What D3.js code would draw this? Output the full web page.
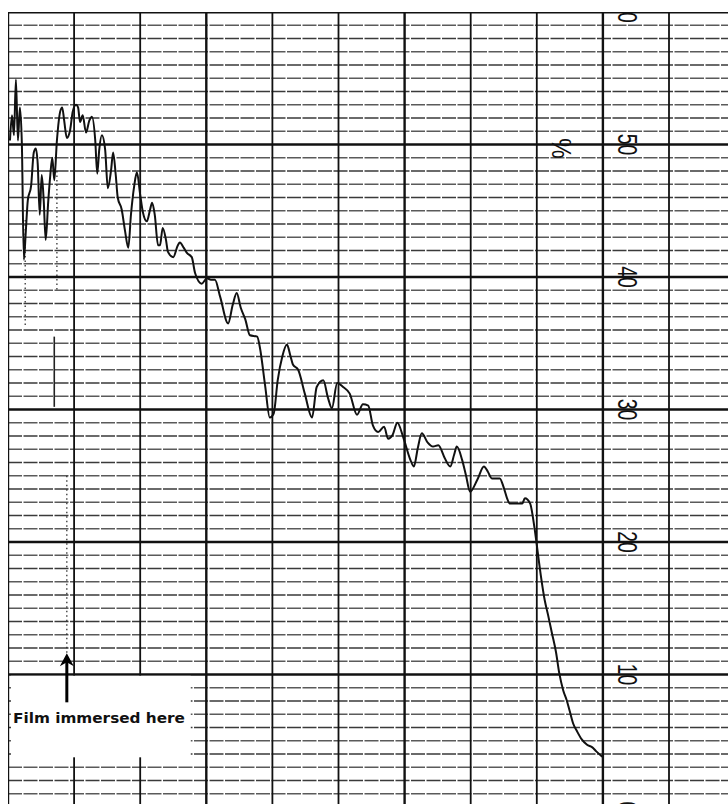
<!DOCTYPE html>
<html>
<head>
<meta charset="utf-8">
<script src="https://cdn.jsdelivr.net/npm/d3@7"></script>
<style>
    body { margin: 0; background: #fff; }
    svg { display: block; }
</style>
</head>
<body>
<svg id="chart"></svg>
<script>
// recorder trace: time in chart divisions, reading in %
var traceTime = [0.03, 0.06, 0.09, 0.12, 0.15, 0.18, 0.21, 0.24, 0.27, 0.30, 0.35, 0.39, 0.42, 0.45, 0.48, 0.51,
    0.54, 0.57, 0.61, 0.64, 0.67, 0.70, 0.74, 0.79, 0.82, 0.85, 0.89, 0.94, 0.98, 1.03, 1.06, 1.09, 1.13, 1.18,
    1.23, 1.27, 1.32, 1.35, 1.38, 1.42, 1.47, 1.51, 1.56, 1.59, 1.63, 1.66, 1.72, 1.77, 1.82, 1.86, 1.91, 1.95,
    2.00, 2.04, 2.10, 2.15, 2.18, 2.22, 2.27, 2.30, 2.34, 2.39, 2.42, 2.50, 2.57, 2.60, 2.66, 2.71, 2.78, 2.83,
    2.93, 3.01, 3.07, 3.13, 3.21, 3.33, 3.40, 3.46, 3.52, 3.59, 3.66, 3.77, 3.81, 3.89, 3.96, 4.02, 4.08, 4.15,
    4.22, 4.27, 4.31, 4.39, 4.49, 4.60, 4.67, 4.77, 4.84, 4.90, 4.98, 5.07, 5.17, 5.28, 5.37, 5.45, 5.52, 5.60,
    5.69, 5.75, 5.82, 5.89, 5.98, 6.08, 6.14, 6.20, 6.26, 6.35, 6.43, 6.51, 6.61, 6.69, 6.75, 6.79, 6.87, 6.93,
    6.99, 7.10, 7.20, 7.26, 7.32, 7.44, 7.50, 7.55, 7.59, 7.69, 7.78, 7.82, 7.90, 7.94, 7.97, 8.02, 8.06, 8.12,
    8.17, 8.23, 8.29, 8.34, 8.40, 8.45, 8.50, 8.55, 8.61, 8.68, 8.76, 8.84, 8.90, 8.99];

var tracePercent = [50.3, 52.2, 50.7, 54.9, 50.3, 52.8, 50.0, 41.3, 43.5, 45.8, 46.9, 49.4, 49.7, 48.5, 44.7, 47.7,
    45.8, 42.8, 45.8, 47.7, 49.0, 47.3, 50.3, 52.5, 52.8, 51.8, 50.5, 51.1, 52.5, 53.0, 52.8, 51.7, 52.2, 50.9,
    51.8, 52.1, 50.3, 47.8, 49.6, 50.7, 49.6, 46.7, 48.1, 49.4, 47.7, 46.0, 45.1, 43.5, 42.2, 44.7, 46.9, 47.9,
    46.2, 44.9, 44.2, 45.1, 45.6, 44.7, 42.4, 42.4, 43.7, 42.8, 41.9, 41.5, 42.4, 42.6, 42.2, 41.8, 41.5, 40.3,
    39.5, 39.9, 39.8, 39.8, 38.5, 36.5, 37.9, 38.8, 37.7, 36.8, 35.6, 35.5, 34.7, 31.8, 29.4, 29.7, 32.2, 34.0,
    34.9, 34.1, 33.4, 33.0, 31.2, 29.4, 31.7, 32.2, 30.9, 30.1, 32.0, 31.7, 31.2, 29.6, 30.4, 30.3, 28.8, 28.3,
    28.7, 27.8, 28.1, 29.0, 27.9, 26.3, 25.7, 27.1, 28.2, 27.5, 27.2, 27.3, 26.3, 25.7, 26.6, 27.2, 26.2, 25.0,
    23.8, 24.7, 25.7, 25.3, 24.8, 24.8, 24.1, 23.3, 22.9, 22.9, 22.9, 23.3, 22.9, 21.9, 20.9, 19.0, 17.5, 15.6,
    14.5, 13.1, 11.7, 10.1, 8.8, 8.1, 7.2, 6.3, 5.7, 5.1, 4.7, 4.5, 4.2, 3.8];

// faint pen streaks in the first division
var streakTime = [0.26, 0.70, 0.74, 0.89];
var streakFrom = [44.3, 35.5, 48.0, 25.0];
var streakTo = [36.2, 30.2, 39.0, 11.6];

var percentTicks = [0, 10, 20, 30, 40, 50, 60];
var noteText = 'Film immersed here';
var notePercent = [3.75, 9.9];
var noteTime = [0.03, 2.75];
var arrowTime = 0.89;
var arrowPercent = [7.9, 11.6];

var width = 728,
    height = 804;

var x = d3.scaleLinear().domain([0, 10]).range([8, 669]);
var y = d3.scaleLinear().domain([0, 60]).range([807, 12]);

var svg = d3.select('#chart')
    .attr('width', width)
    .attr('height', height);

svg.append('defs').append('clipPath')
    .attr('id', 'plot')
    .append('rect')
    .attr('x', x(0))
    .attr('y', y(60))
    .attr('width', width - x(0))
    .attr('height', height - y(60));

var g = svg.append('g').attr('clip-path', 'url(#plot)');

// minor horizontal rulings
g.append('g').selectAll('line')
    .data(d3.range(0, 61).filter(function(d) { return d % 10 !== 0; }))
    .join('line')
    .attr('x1', x(0))
    .attr('x2', width)
    .attr('y1', function(d) { return y(d); })
    .attr('y2', function(d) { return y(d); })
    .style('stroke', function(d) { return d % 2 ? '#5a5a5a' : '#3a3a3a'; })
    .style('stroke-width', 1.3)
    .style('stroke-dasharray', '14,1.5');

// vertical time rulings
g.append('g').selectAll('line')
    .data(d3.range(0, 11))
    .join('line')
    .attr('x1', function(d) { return x(d); })
    .attr('x2', function(d) { return x(d); })
    .attr('y1', y(60))
    .attr('y2', height)
    .style('stroke', '#111')
    .style('stroke-width', function(d) { return d % 3 === 0 ? 2.4 : 1.8; });

// major horizontal rulings every 10 %
g.append('g').selectAll('line')
    .data(percentTicks)
    .join('line')
    .attr('x1', x(0))
    .attr('x2', width)
    .attr('y1', function(d) { return y(d); })
    .attr('y2', function(d) { return y(d); })
    .style('stroke', '#111')
    .style('stroke-width', function(d) { return d === 60 ? 3.2 : 2.4; });

// scale figures printed sideways on the paper
g.append('g').selectAll('text')
    .data(percentTicks)
    .join('text')
    .attr('transform', function(d) {
        return 'translate(' + (x(9) + 24) + ',' + y(d) + ') rotate(90) scale(0.72,1)';
    })
    .attr('text-anchor', 'middle')
    .attr('dominant-baseline', 'central')
    .style('font-family', 'Liberation Sans, Arial, sans-serif')
    .style('font-size', '27px')
    .style('fill', '#111')
    .text(function(d) { return d; });

g.append('text')
    .attr('transform', 'translate(' + (x(8.3) + 5) + ',' + y(49.7) + ') rotate(90) scale(0.85,1)')
    .attr('text-anchor', 'middle')
    .attr('dominant-baseline', 'central')
    .style('font-family', 'Liberation Sans, Arial, sans-serif')
    .style('font-size', '27px')
    .style('fill', '#111')
    .text('%');

g.append('g').selectAll('line')
    .data(streakTime)
    .join('line')
    .attr('x1', function(d) { return x(d); })
    .attr('x2', function(d) { return x(d); })
    .attr('y1', function(d, i) { return y(streakFrom[i]); })
    .attr('y2', function(d, i) { return y(streakTo[i]); })
    .style('stroke', '#222')
    .style('stroke-width', function(d, i) { return i === 1 ? 1.6 : 1.2; })
    .style('stroke-dasharray', function(d, i) { return i === 1 ? null : '1.5,3'; });

var trace = traceTime.map(function(t, i) {
    return { time: t, value: tracePercent[i] };
});

var valueline = d3.line()
    .x(function(d) { return x(d.time); })
    .y(function(d) { return y(d.value); })
    .curve(d3.curveMonotoneX);

g.append('path')
    .datum(trace)
    .attr('d', valueline)
    .style('fill', 'none')
    .style('stroke', '#111')
    .style('stroke-width', 2)
    .style('stroke-linejoin', 'round');

// label box pasted over the paper
g.append('rect')
    .attr('x', x(noteTime[0]) + 1)
    .attr('y', y(notePercent[1]))
    .attr('width', x(noteTime[1]) - x(noteTime[0]))
    .attr('height', y(notePercent[0]) - y(notePercent[1]))
    .style('fill', '#fff');

g.append('line')
    .attr('x1', x(arrowTime))
    .attr('x2', x(arrowTime))
    .attr('y1', y(arrowPercent[0]))
    .attr('y2', y(arrowPercent[1]) + 6)
    .style('stroke', '#000')
    .style('stroke-width', 3);

g.append('path')
    .attr('d', 'M' + x(arrowTime) + ',' + y(arrowPercent[1]) +
        'l-7,13 l7,-4 l7,4 z')
    .style('fill', '#000');

g.append('text')
    .attr('x', 13)
    .attr('y', y(notePercent[0]) - 34)
    .attr('textLength', 172)
    .attr('lengthAdjust', 'spacingAndGlyphs')
    .style('font-family', 'DejaVu Sans, sans-serif')
    .style('font-weight', 'bold')
    .style('font-size', '14px')
    .style('fill', '#111')
    .text(noteText);
</script>
</body>
</html>
